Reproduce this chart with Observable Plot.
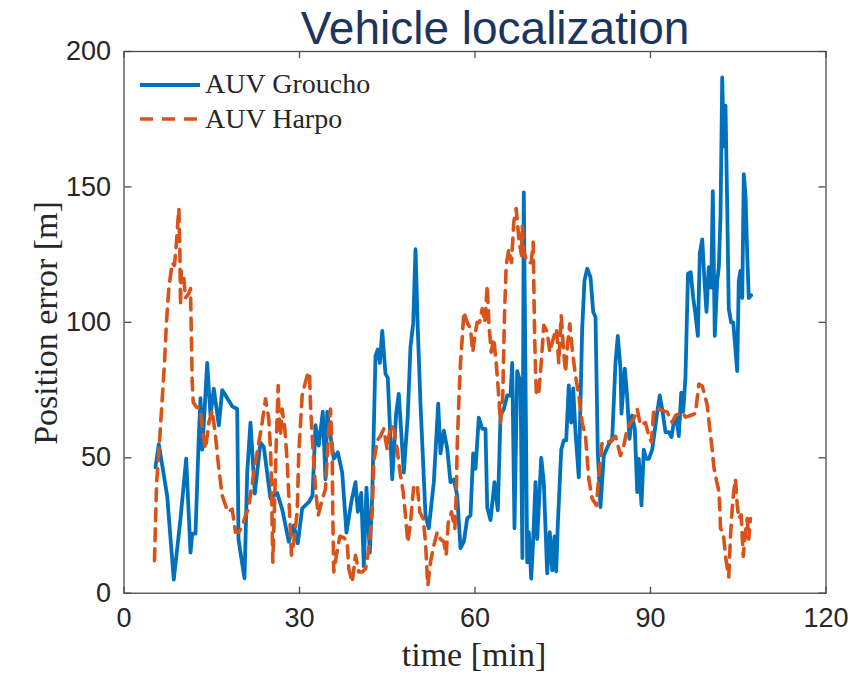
<!DOCTYPE html>
<html><head><meta charset="utf-8">
<script src="https://cdn.jsdelivr.net/npm/d3@7"></script>
<script src="https://cdn.jsdelivr.net/npm/@observablehq/plot@0.6"></script>
<style>
body{margin:0;background:#fff}
#wrap{position:relative;width:854px;height:677px}
#title{position:absolute;top:5px;left:495px;transform:translateX(-50%);font-family:"Liberation Sans",Arial,sans-serif;font-size:46px;line-height:46px;color:#1c355e;white-space:nowrap;z-index:2}
</style></head><body><div id="wrap"><div id="title">Vehicle localization</div></div>
<script>
const seriesNames = ["AUV Groucho", "AUV Harpo"];
const xTicks = [0, 30, 60, 90, 120];
const yTicks = [0, 50, 100, 150, 200];

const grouchoT = [5.38,5.95,7.38,8.51,9.66,10.63,11.37,11.66,12.22,12.79,13.08,13.37,13.76,14.22,14.79,15.35,16.21,16.79,18.50,19.35,19.57,19.91,20.60,21.06,21.62,22.36,23.33,23.90,25.04,26.19,27.04,28.17,29.03,29.71,30.46,31.59,32.22,32.74,33.30,33.98,34.44,34.74,35.30,35.86,36.55,37.30,38.03,38.84,39.57,39.97,40.55,40.99,41.45,42.02,42.43,42.99,43.38,43.73,44.14,44.70,45.09,45.85,46.53,46.97,47.83,48.51,48.97,49.44,49.83,50.22,50.68,51.54,52.10,52.96,53.71,54.10,54.67,55.25,55.81,56.38,56.96,57.52,58.09,58.67,59.23,59.69,60.09,60.65,61.23,61.79,62.09,62.65,63.33,63.90,64.36,64.92,65.50,66.07,66.36,66.75,67.21,67.78,68.10,68.34,68.92,69.20,69.61,69.95,70.34,70.63,71.32,71.76,72.34,72.79,73.20,73.59,73.88,74.15,74.74,75.18,75.59,76.03,76.44,76.79,77.18,77.74,78.32,78.72,79.18,79.74,80.21,80.60,80.99,81.45,82.02,82.87,83.45,84.02,84.41,84.87,85.04,85.61,86.02,86.41,86.87,87.32,87.73,88.00,88.46,88.85,89.26,89.71,90.29,91.15,91.59,92.00,92.56,93.13,93.59,93.98,94.39,94.84,95.25,95.59,95.98,96.41,96.87,97.30,97.69,98.09,98.43,98.84,99.23,99.57,99.97,100.38,100.65,100.99,101.40,101.68,101.97,102.26,102.53,102.82,103.11,103.38,103.79,104.14,104.82,105.09,105.38,105.68,105.95,106.24,106.53,106.80,107.21];
const grouchoV = [46.5,55,36,5,27.6,49.7,15,22,22,58,72,53,67,85,65.6,75.5,62,75,69,68,20,15,5.5,44.5,63,36.8,55.6,54,35,37,31,19,25,18.4,31.3,33.6,36,62,54.5,67,42,67,58,49.6,52,44.5,22.4,33.5,41,30,37,10,39,15,36,87.6,90,85,96.8,81,79.5,42,66.6,73.6,44.5,65.6,91,99.7,127,97.6,70,28.7,24,41,70,51.6,60,53.4,41,42,36,16.6,19,27.6,28.7,51.6,46,64.8,60.7,60.7,31.6,27,41,30.6,65.6,68,73,73,85,24,82,77.7,13,148,11.4,22.5,5.4,20,41,20,50,41,7.3,22.5,8.4,21,8,25,53,56.4,56.4,76.7,63,75.6,59.4,42.8,97.6,115.5,119.8,116.7,103.8,102,52,31.8,50.8,55,57,85.3,95,83,66.3,82.9,72.4,57,65.6,60.7,37.3,49.6,32.4,53,49.6,49.6,53,66.9,73,68,59.5,59.5,57.6,63,65.6,58,74,67,80,118,118.5,109,103,95,125.5,130.6,115.3,103.9,120.4,112.8,148.4,95,115.3,120.4,139.5,190.4,165,180,143.3,105,100,100,82,115.3,119,109,154.7,147,125.5,109,110];

const harpoT = [5.21,5.56,6.12,6.92,7.26,7.66,8.24,8.63,8.97,9.37,9.54,9.66,9.78,10.22,10.51,11.08,11.37,11.49,11.66,11.83,12.39,13.08,13.37,13.93,14.50,15.08,15.64,16.21,16.79,17.74,18.50,19.06,19.62,20.26,20.77,21.23,22.48,23.62,24.19,24.75,25.04,25.21,25.33,25.44,25.78,26.02,26.36,26.46,26.75,27.04,27.49,27.90,28.17,28.63,29.03,29.61,29.88,30.46,31.03,31.32,31.71,31.88,32.17,32.44,32.74,33.20,33.76,34.44,35.01,35.30,35.59,35.69,35.86,36.32,36.89,37.57,38.15,38.43,39.01,39.57,40.14,40.72,41.28,41.68,42.02,42.43,42.70,43.28,43.85,44.41,44.99,45.56,46.12,46.70,47.26,47.73,48.12,48.51,48.97,49.54,50.12,50.56,51.15,51.54,51.93,52.39,52.96,53.54,54.10,54.67,55.08,55.42,55.98,56.55,56.79,56.96,57.23,57.52,57.81,58.09,58.67,59.23,59.62,59.97,60.38,60.77,61.23,61.68,62.09,62.36,62.77,63.21,63.62,63.97,64.36,64.75,65.04,65.33,65.78,66.24,66.63,67.04,67.49,67.95,68.07,68.34,68.92,69.61,69.95,70.05,70.17,70.34,70.51,70.91,71.32,71.76,72.34,72.79,73.37,73.93,74.32,74.74,75.08,75.47,75.86,76.21,76.62,77.18,77.74,78.32,78.89,79.45,80.03,80.77,81.16,81.74,82.60,83.45,84.02,84.58,84.87,85.44,86.02,86.58,87.15,87.73,88.29,89.15,89.71,90.17,90.56,91.15,92.00,92.85,93.71,94.27,94.84,95.42,95.98,96.84,97.69,98.26,98.84,99.23,99.69,100.14,100.55,100.82,101.28,101.68,101.85,101.97,102.43,102.82,103.38,103.68,103.97,104.24,104.53,104.82,105.09,105.50,105.85,106.24,106.53,106.80,107.09];
const harpoV = [12,40,57.6,85,100,112.5,122,121,129.6,142,128,106,119,116.7,109,110.6,112.5,97.6,78,70.5,68.7,68,60.7,53.3,63,67.5,58,46,36,30,31,22.5,22.5,25,28.7,31,48.4,63,71.8,64.4,53.3,42,23.8,11.4,36,55,76.7,68,58,68,60.7,48.4,36,14,18.8,30,52,73,78,80.4,81.6,69.3,58,48.4,38.5,28.7,33.6,38.5,60.7,68,53,29,7.8,14,21,20.5,19,9,4,14,7.8,7.8,9,14,20,30,48.4,56.4,58,60.7,53,62,60.7,53,43.5,37.3,28.7,18.8,26,39.8,39.8,30,27.5,18.8,2.8,11.4,17.6,22.5,20,19,14,26,30,23.8,36,54.5,70.5,85,94,103.8,100,97.6,89,95,100,100,105,100,113.6,100,89,94,85,75.5,63,73,102.5,121,127,122,137,142,130.9,124.7,135.8,126,122,122,129.6,114.8,97.6,82.9,73,74.2,85,98.9,96.4,89,94,97.6,85,102.5,91.5,81.6,92.7,99.5,90,80.4,73,63,58,42.2,34.9,32.4,43.5,55.8,55.8,56.4,58,53.3,50.8,54.5,60.7,63,64.4,68,62,63,58,55.8,68,68,67.5,66.9,63,65.6,66.2,66.9,65,65.6,66.4,77.2,76.5,73.4,69.5,60.6,53,46.7,41.6,37.8,31.4,23.8,22.5,13.6,6,21.2,31.4,37.8,42.2,32.7,27.6,28.9,13.6,22.5,27.6,20,27.6];

const groucho = grouchoT.map((t, i) => ({t, v: grouchoV[i]}));
const harpo = harpoT.map((t, i) => ({t, v: harpoV[i]}));

const blue = "#0072BD", orange = "#D95319", ink = "#262626", frameInk = "#4a4a4a";
const sans = '"Liberation Sans", Arial, Helvetica, sans-serif';
const serif = '"Liberation Serif", "Times New Roman", serif';
const noText = () => "";

const plot = Plot.plot({
  width: 854, height: 677,
  marginTop: 51, marginLeft: 123.5, marginRight: 28.5, marginBottom: 84.3,
  x: {domain: [0, 120]},
  y: {domain: [0, 200]},
  style: {fontFamily: sans, fontSize: "27px", color: ink, background: "transparent"},
  marks: [
    Plot.line(groucho, {x: "t", y: "v", stroke: blue, strokeWidth: 3.8, strokeLinejoin: "round", strokeLinecap: "round"}),
    Plot.line(harpo, {x: "t", y: "v", stroke: orange, strokeWidth: 3.6, strokeDasharray: "12,8"}),
    Plot.frame({stroke: frameInk, strokeWidth: 1.3}),
    // tick labels
    Plot.axisX(xTicks, {anchor: "bottom", tickSize: 0, tickPadding: 15, label: null, fill: ink}),
    Plot.axisY(yTicks, {anchor: "left", tickSize: 0, tickPadding: 13, label: null, fill: ink}),
    // inward ticks on all four sides
    Plot.axisX(xTicks, {anchor: "top", frameAnchor: "bottom", tickSize: 7, tickFormat: noText, label: null, stroke: frameInk, strokeWidth: 1.3}),
    Plot.axisX(xTicks, {anchor: "bottom", frameAnchor: "top", tickSize: 7, tickFormat: noText, label: null, stroke: frameInk, strokeWidth: 1.3}),
    Plot.axisY(yTicks, {anchor: "right", frameAnchor: "left", tickSize: 7, tickFormat: noText, label: null, stroke: frameInk, strokeWidth: 1.3}),
    Plot.axisY(yTicks, {anchor: "left", frameAnchor: "right", tickSize: 7, tickFormat: noText, label: null, stroke: frameInk, strokeWidth: 1.3})
  ]
});
document.getElementById("wrap").appendChild(plot);
plot.style.position = "absolute"; plot.style.left = "0"; plot.style.top = "0";

const svg = d3.select(plot);
svg.append("text").attr("x", 474).attr("y", 666).attr("text-anchor", "middle")
  .attr("font-family", serif).attr("font-size", 34).attr("fill", ink).text("time [min]");
svg.append("text").attr("transform", "translate(57,323) rotate(-90)").attr("text-anchor", "middle")
  .attr("font-family", serif).attr("font-size", 34).attr("fill", ink).text("Position error [m]");

const leg = svg.append("g").attr("text-anchor", "start");
leg.append("line").attr("x1", 140).attr("x2", 200).attr("y1", 85).attr("y2", 85)
  .attr("stroke", blue).attr("stroke-width", 3.8);
leg.append("line").attr("x1", 140).attr("x2", 200).attr("y1", 119).attr("y2", 119)
  .attr("stroke", orange).attr("stroke-width", 3.6).attr("stroke-dasharray", "13,9");
leg.append("text").attr("x", 205).attr("y", 93).attr("text-anchor", "start").attr("font-family", serif).attr("font-size", 28).attr("fill", ink).text(seriesNames[0]);
leg.append("text").attr("x", 205).attr("y", 128).attr("text-anchor", "start").attr("font-family", serif).attr("font-size", 28).attr("fill", ink).text(seriesNames[1]);
</script></body></html>
